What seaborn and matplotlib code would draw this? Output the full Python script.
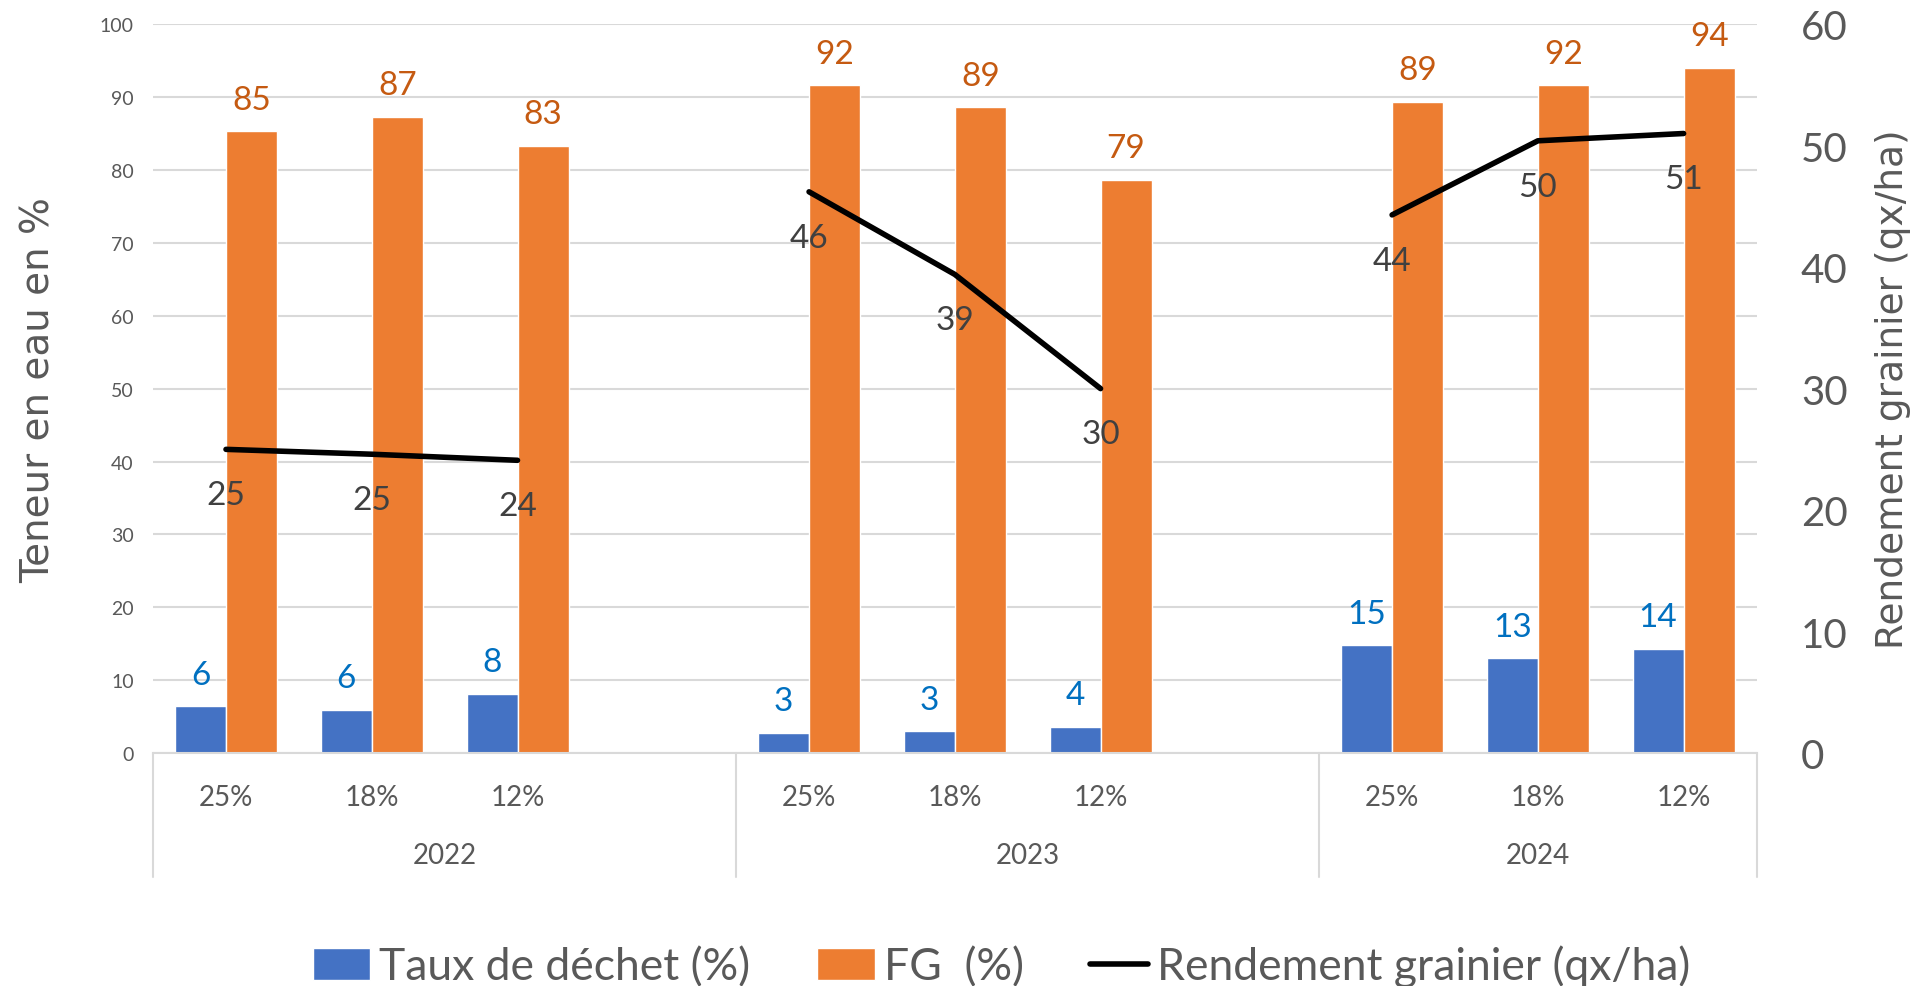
import matplotlib
matplotlib.use("Agg")
import matplotlib.pyplot as plt
import matplotlib.transforms as mtransforms
from matplotlib.lines import Line2D
from matplotlib.patches import Patch
import pandas as pd
import seaborn as sns

years = ["2022", "2023", "2024"]
doses = ["25%", "18%", "12%"]
dechet = [6.4, 5.9, 8.1, 2.8, 3.0, 3.6, 14.8, 13.0, 14.3]
fg = [85.3, 87.3, 83.3, 91.6, 88.6, 78.6, 89.3, 91.6, 94.0]
rendement = [25.0, 24.6, 24.1, 46.2, 39.4, 30.0, 44.3, 50.4, 51.0]

BLUE = "#4472C4"
ORANGE = "#ED7D31"
GRID = "#D9D9D9"
GREY = "#595959"
NUM_FONT = ["Lato", "DejaVu Sans"]

sns.set_theme(style="white")
plt.rcParams["font.family"] = ["DejaVu Sans"]

# one empty slot after 2022 and 2023, as in the Excel layout
slots = []
tick_labels = []
for i, y in enumerate(years):
    for d in doses:
        slots.append(f"{y} {d}")
        tick_labels.append(d)
    if i < len(years) - 1:
        slots.append(f"{y} -")
        tick_labels.append("")

rows = []
line_rows = []
k = 0
for y in years:
    for d in doses:
        rows.append({"slot": f"{y} {d}", "serie": "Taux de déchet (%)", "val": dechet[k]})
        rows.append({"slot": f"{y} {d}", "serie": "FG  (%)", "val": fg[k]})
        line_rows.append({"pos": slots.index(f"{y} {d}"), "year": y, "rend": rendement[k]})
        k += 1
bars = pd.DataFrame(rows)
line = pd.DataFrame(line_rows)

fig = plt.figure(figsize=(19.26, 9.87), dpi=100)
ax = fig.add_axes([0.0795, 0.236, 0.8325, 0.7385])

sns.barplot(data=bars, x="slot", y="val", hue="serie", order=slots,
            hue_order=["Taux de déchet (%)", "FG  (%)"], palette=[BLUE, ORANGE],
            width=0.7, gap=0, saturation=1, legend=False, ax=ax)

ax.set_ylim(0, 100)
ax.set_yticks(range(0, 101, 10))
ax.yaxis.grid(True, color=GRID, lw=1.5)
ax.set_axisbelow(True)
for s in ["top", "left", "right"]:
    ax.spines[s].set_visible(False)
ax.spines["bottom"].set_color(GRID)
ax.spines["bottom"].set_linewidth(1.5)
ax.set_xticks(range(len(slots)))
ax.set_xticklabels(tick_labels, fontsize=20, color=GREY, family=NUM_FONT)
ax.tick_params(axis="x", length=0, pad=22)
ax.tick_params(axis="y", length=0, pad=14, labelsize=14, labelcolor=GREY)
for t in ax.get_yticklabels():
    t.set_family(NUM_FONT)
ax.set_xlabel("")
ax.set_ylabel("Teneur en eau en %", fontsize=28, color=GREY, labelpad=30)

# data labels on the bars
colors_lbl = ["#0070C0", "#C55A11"]
for cont, c in zip(ax.containers, colors_lbl):
    ax.bar_label(cont, fmt="%.0f", padding=12, fontsize=24, color=c, family=NUM_FONT)

# year labels and separators of the two-level category axis
trans = mtransforms.blended_transform_factory(ax.transData, ax.transAxes)
for i, y in enumerate(years):
    idx = [slots.index(f"{y} {d}") for d in doses]
    end = idx[-1] + 1 if i < len(years) - 1 else idx[-1]
    ax.text((idx[0] + end) / 2, -0.14, y, transform=trans, ha="center", va="center",
            fontsize=20, color=GREY, family=NUM_FONT)
for xs in [-0.5, 3.5, 7.5, 10.5]:
    ax.plot([xs, xs], [0, -0.17], transform=trans, color=GRID, lw=1.5, clip_on=False)

ax2 = ax.twinx()
sns.lineplot(data=line, x="pos", y="rend", units="year", estimator=None,
             color="black", lw=4, ax=ax2, legend=False)
ax2.set_ylim(0, 60)
ax2.set_yticks(range(0, 61, 10))
for s in ["top", "left", "right", "bottom"]:
    ax2.spines[s].set_visible(False)
ax2.tick_params(axis="y", length=0, pad=32, labelsize=29, labelcolor=GREY)
for t in ax2.get_yticklabels():
    t.set_family(NUM_FONT)
ax2.set_ylabel("Rendement grainier (qx/ha)", fontsize=27, color=GREY, labelpad=20)
ax2.set_xlabel("")
for _, r in line.iterrows():
    ax2.annotate(f"{r['rend']:.0f}", (r["pos"], r["rend"]), xytext=(0, -33),
                 textcoords="offset points", ha="center", va="center",
                 fontsize=24, color="#404040", family=NUM_FONT)

ax.set_xlim(-0.5, len(slots) - 0.5)

handles = [Patch(facecolor=BLUE), Patch(facecolor=ORANGE),
           Line2D([0], [0], color="black", lw=4)]
labels = ["Taux de déchet (%)", "FG  (%)", "Rendement grainier (qx/ha)"]
fig.legend(handles, labels, loc="lower center", bbox_to_anchor=(0.52, -0.042),
           ncol=3, frameon=False, handlelength=1.3, handleheight=0.75,
           handletextpad=0.2, columnspacing=1.5,
           prop={"family": NUM_FONT, "size": 32}, labelcolor=GREY)

fig.savefig("out.png", dpi=100)
